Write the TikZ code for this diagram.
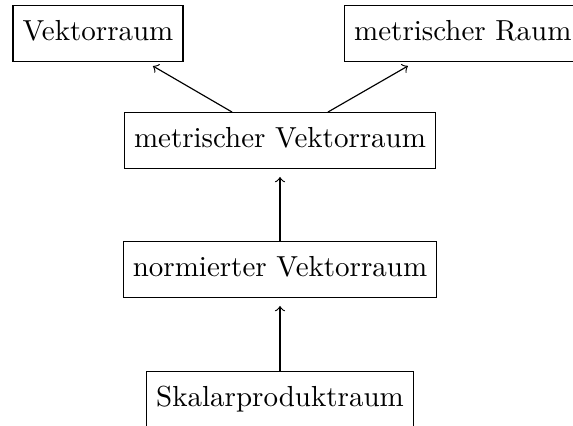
\documentclass[tikz,border=0pt]{standalone}
\usetikzlibrary{calc}
\begin{document}
\begin{tikzpicture}[x=0.345pt,y=-0.345pt,
  box/.style={draw,inner xsep=3.33pt,inner ysep=3.33pt,text height=8.8pt,text depth=3.8pt},
  arr/.style={->,shorten >=2.76pt}]
\useasboundingbox (0,0) rectangle (573,425);
\node[box] (v) at (98,33.5) {Vektorraum};
\node[box,anchor=west] (mr) at (344,33.5) {metrischer Raum};
\node[box] (mv) at (280,140.5) {metrischer Vektorraum};
\node[box] (nv) at (280,269.5) {normierter Vektorraum};
\node[box] (sp) at (280,399.5) {Skalarproduktraum};
\draw[arr] ($(mv.north)+(-48,0)$) -- ($(v.south)+(48,0)$);
\draw[arr] ($(mv.north)+(48,0)$) -- ($(mr.south)+(-48,0)$);
\draw[arr] (nv) -- (mv);
\draw[arr] (sp) -- (nv);
\end{tikzpicture}
\end{document}
